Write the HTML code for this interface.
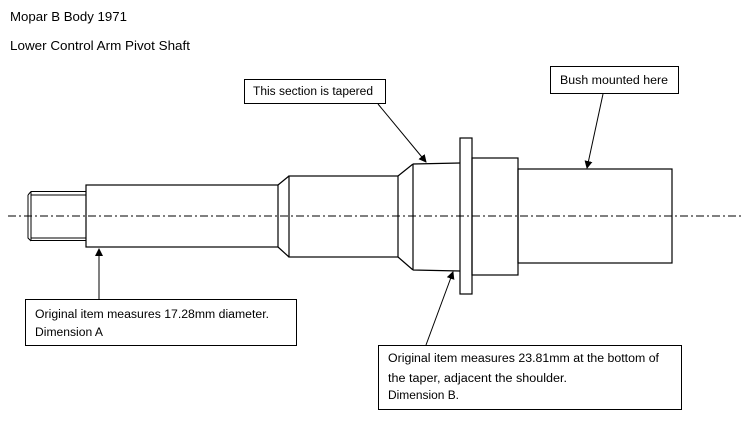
<!DOCTYPE html>
<html><head><meta charset="utf-8"><style>
html,body{margin:0;padding:0;background:#fff;}
svg{display:block;}
text{font-family:"Liberation Sans",sans-serif;font-size:11.5px;fill:#000;}
</style></head><body>
<svg width="748" height="431" viewBox="0 0 748 431" xmlns="http://www.w3.org/2000/svg">
<defs><marker id="ar" markerWidth="8" markerHeight="8" refX="7" refY="4" orient="auto" markerUnits="userSpaceOnUse"><path d="M0,0 L8,4 L0,8 z" fill="#000"/></marker></defs>
<text x="10" y="21" style="font-size:12.5px" textLength="117" lengthAdjust="spacingAndGlyphs">Mopar B Body 1971</text>
<text x="10" y="50" style="font-size:12.5px" textLength="180" lengthAdjust="spacingAndGlyphs">Lower Control Arm Pivot Shaft</text>
<g fill="none" stroke="#000" stroke-width="1.2">
<path d="M31,191.5 H86 M31,240.5 H86 M31,191.5 V240.5 M28,195 V238 L31,241 M28,195 L31,191.5 M31,195 H86 M31,238 H86" stroke-width="1"/>
<rect x="86" y="185" width="192" height="62"/>
<path d="M278,185 L289,176 M278,247 L289,257"/>
<rect x="289" y="176" width="109" height="81"/>
<path d="M398,176 L413,164 M398,257 L413,270"/>
<path d="M413,164 V270 M413,164 L460,163 M413,270 L460,271"/>
<rect x="460" y="138" width="12" height="156"/>
<rect x="472" y="158" width="46" height="117"/>
<rect x="518" y="169" width="154" height="94"/>
</g>
<line x1="8" y1="216" x2="742" y2="216" stroke="#000" stroke-width="1" stroke-dasharray="8,3,2,3"/>
<g fill="#fff" stroke="#000" stroke-width="1">
<rect x="244.5" y="79.5" width="141" height="24"/>
<rect x="550.5" y="66.5" width="128" height="27"/>
<rect x="25.5" y="299.5" width="271" height="46"/>
<rect x="378.5" y="345.5" width="303" height="64"/>
</g>
<text x="253" y="95" textLength="120" lengthAdjust="spacingAndGlyphs">This section is tapered</text>
<text x="560" y="84" textLength="108" lengthAdjust="spacingAndGlyphs">Bush mounted here</text>
<text x="35" y="318" textLength="234" lengthAdjust="spacingAndGlyphs">Original item measures 17.28mm diameter.</text>
<text x="35" y="336" textLength="68" lengthAdjust="spacingAndGlyphs">Dimension A</text>
<text x="388" y="362" textLength="271" lengthAdjust="spacingAndGlyphs">Original item measures 23.81mm at the bottom of</text>
<text x="388" y="382" textLength="179" lengthAdjust="spacingAndGlyphs">the taper, adjacent the shoulder.</text>
<text x="388" y="399" textLength="71" lengthAdjust="spacingAndGlyphs">Dimension B.</text>
<g stroke="#000" stroke-width="1" fill="none">
<line x1="378" y1="104" x2="426" y2="162" marker-end="url(#ar)"/>
<line x1="603" y1="94" x2="587" y2="168" marker-end="url(#ar)"/>
<line x1="99" y1="299" x2="99" y2="249" marker-end="url(#ar)"/>
<line x1="426" y1="345" x2="453" y2="272" marker-end="url(#ar)"/>
</g>
</svg>
</body></html>
